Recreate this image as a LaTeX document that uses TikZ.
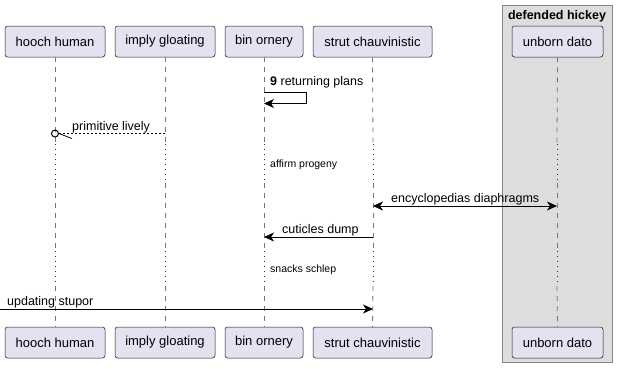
\documentclass[tikz,border=0pt]{standalone}
\usepackage{fontspec}
\setmainfont{Liberation Sans}
\usetikzlibrary{arrows.meta}

\definecolor{partfill}{HTML}{E2E2F0}
\definecolor{partline}{HTML}{181818}
\definecolor{groupfill}{HTML}{DDDDDD}
\definecolor{groupline}{HTML}{888888}
\definecolor{lifeline}{HTML}{777777}
\definecolor{delaydot}{HTML}{800040}

\tikzset{
	party/.style={draw=partline, fill=partfill, rounded corners=2.5pt, line width=0.5pt,
		minimum height=31pt, inner xsep=7pt, font=\fontsize{13}{13}\selectfont},
	life/.style={draw=lifeline, line width=0.8pt, dash pattern=on 5pt off 5pt},
	delay/.style={draw=delaydot, line width=1pt, dash pattern=on 1pt off 4pt},
	msg/.style={draw=black, line width=0.8pt},
	tip/.style={-{Stealth[length=10pt,width=9pt,inset=3pt]}},
	msgtext/.style={font=\fontsize{12.5}{12.5}\selectfont, inner sep=0pt, anchor=base west},
	delaytext/.style={font=\fontsize{10.5}{10.5}\selectfont, inner sep=0pt, anchor=base west}
}

\begin{document}
\begin{tikzpicture}[x=1pt, y=-1pt]
	\useasboundingbox (0,0) rectangle (618,368);

	% the box around unborn dato
	\draw[draw=groupline, fill=groupfill, line width=1pt] (502,5) rectangle (612,362);
	\node[font=\fontsize{12.5}{12.5}\selectfont\bfseries, inner sep=0pt, anchor=base] (G) at (557,19) {defended hickey};

	% participants on top
	\node[party, minimum width=100pt] (h1) at (55,41.5) {hooch human};
	\node[party, minimum width=100pt] (i1) at (165,41.5) {imply gloating};
	\node[party, minimum width=78pt] (b1) at (264,41.5) {bin ornery};
	\node[party, minimum width=119pt] (s1) at (372.5,41.5) {strut chauvinistic};
	\node[party, minimum width=91pt] (u1) at (557.5,41.5) {unborn dato};

	% participants at the bottom
	\node[party, minimum width=100pt] (h2) at (55,342.5) {hooch human};
	\node[party, minimum width=100pt] (i2) at (165,342.5) {imply gloating};
	\node[party, minimum width=78pt] (b2) at (264,342.5) {bin ornery};
	\node[party, minimum width=119pt] (s2) at (372.5,342.5) {strut chauvinistic};
	\node[party, minimum width=91pt] (u2) at (557.5,342.5) {unborn dato};

	% lifelines, dotted where time is skipped
	\foreach \p/\x in {h/55, i/165, b/264, s/373, u/557} {
		\draw[life] (\p1.south) -- (\x,143);
		\draw[delay] (\x,144) -- (\x,182);
		\draw[life] (\x,183) -- (\x,250);
		\draw[delay] (\x,251) -- (\x,285);
		\draw[life] (\x,286) -- (\p2.north);
	}

	% self message on bin ornery
	\coordinate (r1) at (264,92);
	\coordinate (r2) at (264,103.5);
	\draw[msg, tip] (r1) -- ++(42,0) |- (r2);
	\node[msgtext] (rt) at (270,85) {\textbf{9} returning plans};

	% reply to hooch human, circle end
	\node[circle, draw=black, line width=1pt, inner sep=0pt, minimum size=7pt] (c) at (55,133.5) {};
	\coordinate (pl) at (165,133.5);
	\coordinate (pk) at (72,138.5);
	\draw[msg, dash pattern=on 2pt off 2pt, line width=0.7pt] (pl) -- (c.east);
	\draw[msg] (c.east) -- (pk);
	\node[msgtext] (pt) at (72,130) {primitive lively};

	\node[delaytext] (d1) at (270,167) {affirm progeny};

	% both ways between strut and unborn
	\coordinate (e1) at (373,206);
	\coordinate (e2) at (557,206);
	\draw[msg, {Stealth[length=10pt,width=9pt,inset=3pt]}-{Stealth[length=10pt,width=9pt,inset=3pt]}] (e1) -- (e2);
	\node[msgtext] (et) at (391,202) {encyclopedias diaphragms};

	\coordinate (k1) at (373,237);
	\coordinate (k2) at (264,237);
	\draw[msg, tip] (k1) -- (k2);
	\node[msgtext] (kt) at (282,233) {cuticles dump};

	\node[delaytext] (d2) at (270,272) {snacks schlep};

	% message coming in from outside
	\coordinate (o1) at (0,309);
	\coordinate (o2) at (373,309);
	\draw[msg, tip] (o1) -- (o2);
	\node[msgtext] (ot) at (7,305) {updating stupor};
\end{tikzpicture}
\end{document}
